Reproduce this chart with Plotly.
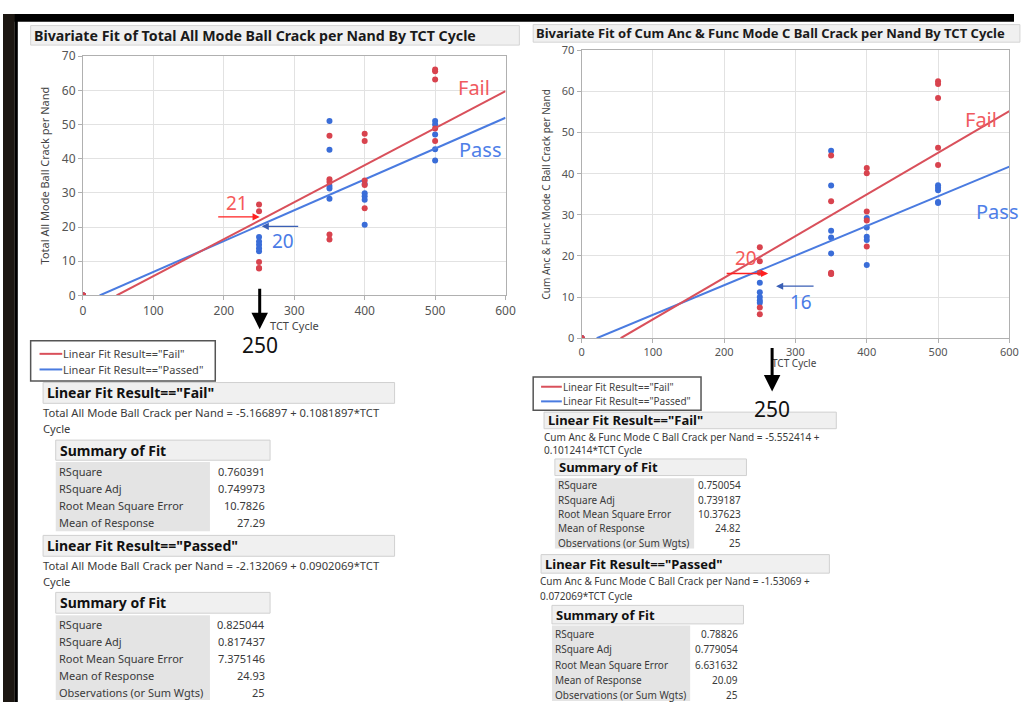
import plotly.graph_objects as go

# ---------------- data ----------------
tct_cycle = [0, 0, 0, 0, 0, 250, 250, 250, 250, 250, 350, 350, 350, 350, 350,
             400, 400, 400, 400, 400, 500, 500, 500, 500, 500]

total_fail = [0, 0, 0, 0, 0, 26.6, 24.6, 9.8, 8.0, 7.9, 46.7, 34.0, 33.2, 17.8, 16.4,
              47.3, 45.2, 33.6, 32.3, 25.5, 66.1, 65.6, 63.2, 48.8, 45.2]
total_passed = [0, 0, 0, 0, 0, 17.1, 15.8, 14.8, 13.8, 12.9, 51.0, 42.6, 32.0, 31.3, 28.3,
                32.6, 29.9, 29.0, 28.0, 20.7, 51.0, 50.0, 47.1, 42.8, 39.5]

cum_fail = [0, 0, 0, 0, 0, 22.1, 18.7, 15.9, 7.5, 5.8, 44.4, 33.3, 15.9, 15.6, 15.7,
            41.4, 40.1, 30.8, 28.6, 22.3, 62.5, 61.8, 58.4, 46.3, 42.1]
cum_passed = [0, 0, 0, 0, 0, 13.5, 11.2, 10.0, 9.2, 8.6, 45.6, 37.1, 26.1, 24.5, 20.6,
              29.2, 26.9, 24.7, 23.9, 17.8, 37.2, 36.6, 36.0, 33.1, 32.9]

# fit coefficients (intercept, slope)
total_fit_fail = [-5.166897, 0.1081897]
total_fit_passed = [-2.132069, 0.0902069]
cum_fit_fail = [-5.552414, 0.1012414]
cum_fit_passed = [-1.53069, 0.072069]

x_ticks = [0, 100, 200, 300, 400, 500, 600]
y_ticks = [0, 10, 20, 30, 40, 50, 60, 70]

summary_labels = ["RSquare", "RSquare Adj", "Root Mean Square Error", "Mean of Response",
                  "Observations (or Sum Wgts)"]
total_summary_fail = ["0.760391", "0.749973", "10.7826", "27.29"]
total_summary_passed = ["0.825044", "0.817437", "7.375146", "24.93", "25"]
cum_summary_fail = ["0.750054", "0.739187", "10.37623", "24.82", "25"]
cum_summary_passed = ["0.78826", "0.779054", "6.631632", "20.09", "25"]

total_eq_fail = ["Total All Mode Ball Crack per Nand = -5.166897 + 0.1081897*TCT", "Cycle"]
total_eq_passed = ["Total All Mode Ball Crack per Nand = -2.132069 + 0.0902069*TCT", "Cycle"]
cum_eq_fail = ["Cum Anc &amp; Func Mode C Ball Crack per Nand = -5.552414 +", "0.1012414*TCT Cycle"]
cum_eq_passed = ["Cum Anc &amp; Func Mode C Ball Crack per Nand = -1.53069 +", "0.072069*TCT Cycle"]

# ---------------- styling ----------------
W, H = 1024, 710
FONT = "Noto Sans"
RED_PT = "#d8434e"
BLUE_PT = "#3a6dd8"
RED_LN = "#d9505b"
BLUE_LN = "#4a7be0"
TXT = "#3a3a3a"


def px(x):
    return x / W


def py(y):
    return 1 - y / H


shapes = []
annotations = []


def rect(x0, y0, x1, y1, fill, line=None, lw=1):
    shapes.append(dict(type="rect", xref="paper", yref="paper",
                       x0=px(x0), x1=px(x1), y0=py(y1), y1=py(y0),
                       fillcolor=fill,
                       line=dict(color=line if line else fill, width=lw if line else 0),
                       layer="below"))


def hline(x0, x1, y, color, w=2):
    shapes.append(dict(type="line", xref="paper", yref="paper",
                       x0=px(x0), x1=px(x1), y0=py(y), y1=py(y),
                       line=dict(color=color, width=w)))


def text(x, y, s, size, color=TXT, bold=False, anchor="left", angle=0):
    annotations.append(dict(xref="paper", yref="paper", x=px(x), y=py(y),
                            text=f"<b>{s}</b>" if bold else s, showarrow=False,
                            xanchor=anchor, yanchor="middle", textangle=angle,
                            borderpad=0,
                            font=dict(size=size, color=color, family=FONT)))


def arrow(xt, yt, xs, ys, color, width):
    annotations.append(dict(xref="paper", yref="paper", x=px(xt), y=py(yt),
                            axref="pixel", ayref="pixel", ax=xs - xt, ay=ys - yt,
                            text="", showarrow=True, arrowhead=2, arrowsize=1.1,
                            arrowwidth=width, arrowcolor=color))


fig = go.Figure()


def add_group(xs, ys, fit, color_pt, color_ln, xa, ya):
    fig.add_trace(go.Scatter(x=xs, y=ys, mode="markers", xaxis=xa, yaxis=ya,
                             marker=dict(size=6, color=color_pt), showlegend=False))
    x0 = -fit[0] / fit[1]
    fig.add_trace(go.Scatter(x=[x0, 600], y=[fit[0] + fit[1] * x0, fit[0] + fit[1] * 600],
                             mode="lines", xaxis=xa, yaxis=ya,
                             line=dict(color=color_ln, width=2), showlegend=False))


add_group(tct_cycle, total_passed, total_fit_passed, BLUE_PT, BLUE_LN, "x", "y")
add_group(tct_cycle, total_fail, total_fit_fail, RED_PT, RED_LN, "x", "y")
add_group(tct_cycle, cum_passed, cum_fit_passed, BLUE_PT, BLUE_LN, "x2", "y2")
add_group(tct_cycle, cum_fail, cum_fit_fail, RED_PT, RED_LN, "x2", "y2")

axis_common = dict(showgrid=True, gridcolor="#e2e2e2", gridwidth=1, showline=True,
                   linecolor="#b0b0b0", linewidth=1, mirror=True, ticks="outside",
                   ticklen=4, tickcolor="#b0b0b0", zeroline=False, fixedrange=True)

fig.update_layout(
    width=W, height=H, autosize=False,
    margin=dict(l=0, r=0, t=0, b=0),
    paper_bgcolor="white", plot_bgcolor="white",
    showlegend=False,
    xaxis=dict(domain=[px(81), px(509)], range=[0, 600], tickvals=x_ticks,
               tickfont=dict(size=12, color="#555", family=FONT), anchor="y", **axis_common),
    yaxis=dict(domain=[py(293.5), py(48.3)], range=[0, 70], tickvals=y_ticks,
               tickfont=dict(size=12, color="#555", family=FONT), anchor="x", **axis_common),
    xaxis2=dict(domain=[px(586), px(1019.3)], range=[0, 600], tickvals=x_ticks,
                tickfont=dict(size=11, color="#555", family=FONT), anchor="y2", **axis_common),
    yaxis2=dict(domain=[py(337.3), py(42.3)], range=[0, 70], tickvals=y_ticks,
                tickfont=dict(size=11, color="#555", family=FONT), anchor="x2", **axis_common),
)

# ---------- screen frame ----------
rect(0, 5, 1024, 13, "#000000")
rect(0, 5, 12, 710, "#1c1712")
rect(12, 5, 15, 710, "#000000")

# ---------- titles ----------
rect(28, 17, 523, 37, "#f0f0f0", "#d4d4d4")
text(30, 27, "Bivariate Fit of Total All Mode Ball Crack per Nand By TCT Cycle", 14.2, "#1a1a1a", bold=True)
rect(537, 16, 1030, 34, "#f0f0f0", "#d4d4d4")
text(539, 25, "Bivariate Fit of Cum Anc &amp; Func Mode C Ball Crack per Nand By TCT Cycle", 13, "#1a1a1a", bold=True)

# axis titles
text(42, 170, "Total All Mode Ball Crack per Nand", 11, "#444", anchor="center", angle=-90)
text(295, 324, "TCT Cycle", 11, "#444", anchor="center")
text(550, 190, "Cum Anc &amp; Func Mode C Ball Crack per Nand", 10, "#444", anchor="center", angle=-90)
text(802, 363, "TCT Cycle", 10, "#444", anchor="center")

# ---------- in-plot annotations ----------
text(477, 80, "Fail", 20, "#f05a5f", anchor="center")
text(483, 144, "Pass", 20, "#4f7fe8", anchor="center")
text(237, 199, "21", 19, "#f55a5a", anchor="center")
text(284, 238, "20", 19, "#4a7be6", anchor="center")
arrow(260, 213, 217, 213, "#ff2020", 1.3)
arrow(262, 222.7, 300, 222.7, "#3a5fb5", 1.3)
arrow(260, 328, 260, 286, "#000000", 3)
text(260, 344, "250", 21, "#111", anchor="center")

text(991, 113, "Fail", 20, "#f05a5f", anchor="center")
text(985, 207, "Pass", 20, "#4f7fe8", anchor="left")
text(753, 255, "20", 19, "#f55a5a", anchor="center")
text(808, 300, "16", 19, "#4a7be6", anchor="center")
arrow(775, 271, 732, 271, "#ff2020", 1.3)
arrow(783, 284, 822, 284, "#3a5fb5", 1.3)
arrow(779, 392, 779, 347, "#000000", 3)
text(779, 410, "250", 21, "#111", anchor="center")

# ---------- legends ----------
rect(28, 340, 215, 381, "white", "#555555", 1.5)
hline(37, 60, 353.3, RED_LN)
hline(37, 60, 369.3, BLUE_LN)
text(60, 353.3, 'Linear Fit Result=="Fail"', 11, "#444")
text(60, 369.3, 'Linear Fit Result=="Passed"', 11, "#444")

rect(537, 377, 707, 411, "white", "#555555", 1.5)
hline(545, 566, 387, RED_LN)
hline(545, 566, 402, BLUE_LN)
text(566, 387, 'Linear Fit Result=="Fail"', 10, "#444")
text(566, 402, 'Linear Fit Result=="Passed"', 10, "#444")


# ---------- report tables ----------
def report(hdr, hx0, hx1, hy0, hy1, hsize, eq, eqx, eqys, eqsize,
           sx0, sx1, sy0, sy1, ssize, lab_x1, val_x, rows_y, bg_y0, bg_y1, rsize, values):
    rect(hx0, hy0, hx1, hy1, "#f0f0f0", "#d0d0d0")
    text(hx0 + 3, (hy0 + hy1) / 2, hdr, hsize, "#111", bold=True)
    for s, yy in zip(eq, eqys):
        text(eqx, yy, s, eqsize, TXT)
    rect(sx0, sy0, sx1, sy1, "#f0f0f0", "#d0d0d0")
    text(sx0 + 3, (sy0 + sy1) / 2, "Summary of Fit", ssize, "#111", bold=True)
    rect(sx0, bg_y0, lab_x1, bg_y1, "#e4e4e4")
    for lab, val, yy in zip(summary_labels, values, rows_y):
        text(sx0 + 2, yy, lab, rsize, TXT)
        text(val_x, yy, val, rsize, TXT, anchor="right")


report('Linear Fit Result=="Fail"', 40.6, 396.6, 382.7, 404, 14,
       total_eq_fail, 39, [413.3, 430], 11.2,
       53.4, 270.5, 441.7, 462.3, 14, 209.6, 266,
       [474, 491.3, 509, 526], 464, 535, 11, total_summary_fail)
report('Linear Fit Result=="Passed"', 40.6, 396.6, 539.3, 560.7, 14,
       total_eq_passed, 39, [570, 587], 11.2,
       53.4, 270.5, 597.7, 619, 14, 209.6, 266,
       [630.7, 647.7, 665, 682.7, 700], 621, 708, 11, total_summary_passed)

report('Linear Fit Result=="Fail"', 548, 844, 413, 430, 13,
       cum_eq_fail, 547, [438, 452], 10,
       559, 753, 461, 478, 13, 700, 749,
       [488, 503, 517.7, 532, 546.7], 480.7, 552.7, 10, cum_summary_fail)
report('Linear Fit Result=="Passed"', 545, 837, 559, 578, 13,
       cum_eq_passed, 543, [586, 601], 10,
       556, 750, 611, 630, 13, 696, 745.7,
       [640, 656, 672, 687.3, 703], 631.7, 709, 10, cum_summary_passed)

fig.update_layout(shapes=shapes, annotations=annotations)
fig.write_html("out.html",
               config={"displayModeBar": False},
               post_script="document.body.style.margin='0px';"
                           "document.documentElement.style.overflow='hidden';"
                           "document.body.style.overflow='hidden';")
